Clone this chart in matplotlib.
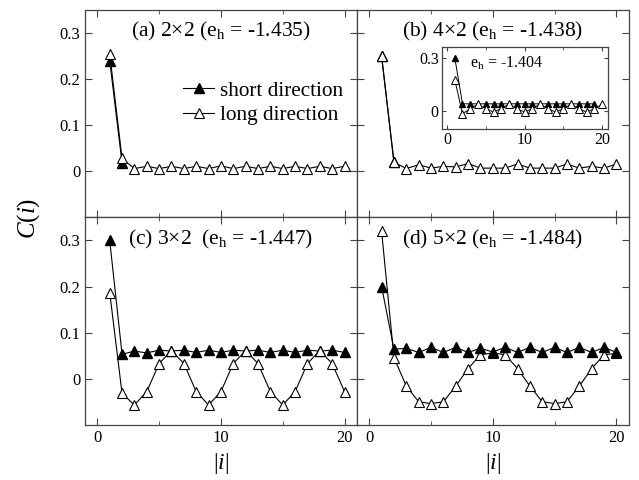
import numpy as np
import matplotlib
matplotlib.use("Agg")
from matplotlib import pyplot as plt
from matplotlib.ticker import MultipleLocator

plt.rcParams['font.family'] = ['Liberation Serif', 'DejaVu Serif']
plt.rcParams['mathtext.fontset'] = 'custom'
plt.rcParams['mathtext.rm'] = 'Liberation Serif'
plt.rcParams['mathtext.it'] = 'Liberation Serif:italic'

i_all = np.arange(1, 21)

# (a) 2x2
short_a = [0.24, 0.018]
long_a = [0.255, 0.028, 0.006, 0.011, 0.006, 0.011, 0.006, 0.011, 0.006, 0.012,
          0.006, 0.011, 0.006, 0.011, 0.006, 0.011, 0.006, 0.011, 0.006, 0.011]

# (b) 4x2
short_b = [0.25, 0.02]
long_b = [0.25, 0.02, 0.006, 0.0145, 0.007, 0.011, 0.0096, 0.017, 0.007, 0.007,
          0.007, 0.016, 0.007, 0.007, 0.007, 0.016, 0.007, 0.011, 0.007, 0.016]

# (b) inset
short_in = [0.30, 0.042, 0.042, 0.042, 0.042, 0.042, 0.042, 0.042, 0.042, 0.042,
            0.042, 0.042, 0.042, 0.042, 0.042, 0.042, 0.042, 0.042, 0.042]
long_in = [0.177, -0.013, 0.015, 0.04, 0.015, -0.004, 0.015, 0.04, 0.015, -0.004,
           0.015, 0.04, 0.015, -0.004, 0.015, 0.04, 0.015, -0.004, 0.015, 0.04]

# (c) 3x2
short_c = [0.30, 0.053, 0.06, 0.056, 0.062, 0.06, 0.062, 0.057, 0.062, 0.057,
           0.062, 0.06, 0.062, 0.057, 0.062, 0.057, 0.062, 0.06, 0.062, 0.057]
long_c = [0.187, -0.032, -0.057, -0.028, 0.033, 0.061, 0.033, -0.028, -0.057, -0.028,
          0.033, 0.061, 0.033, -0.028, -0.057, -0.028, 0.033, 0.061, 0.033, -0.028]

# (d) 5x2
short_d = [0.20, 0.064, 0.066, 0.057, 0.068, 0.057, 0.068, 0.057, 0.066, 0.058,
           0.068, 0.057, 0.068, 0.057, 0.068, 0.057, 0.068, 0.057, 0.068, 0.057]
long_d = [0.32, 0.046, -0.016, -0.05, -0.054, -0.05, -0.016, 0.022, 0.052, 0.056,
          0.052, 0.022, -0.016, -0.05, -0.054, -0.05, -0.016, 0.022, 0.052, 0.055]

titles = ["(a) 2\u00d72 (e$_\\mathrm{h}$ = -1.435)",
          "(b) 4\u00d72 (e$_\\mathrm{h}$ = -1.438)",
          "(c) 3\u00d72  (e$_\\mathrm{h}$ = -1.447)",
          "(d) 5\u00d72 (e$_\\mathrm{h}$ = -1.484)"]

# open symbols sit above the filled ones except in (d)
open_on_top = [True, True, True, False]

frame_col = '#444444'


def style_axes(ax, fs=12):
    ax.tick_params(which='both', direction='in', top=True, right=True,
                   colors=frame_col, labelcolor='black', labelsize=fs)
    ax.tick_params(which='major', length=5)
    ax.tick_params(which='minor', length=3)
    for s in ax.spines.values():
        s.set_color(frame_col)
        s.set_linewidth(0.9)


def draw_pair(ax, short, long_, top_open=True, ms=7.8):
    z_open, z_fill = (3, 2) if top_open else (2, 3)
    ax.plot(i_all[:len(short)], short, color='black', lw=0.8, marker='^',
            markersize=ms - 1.3, markerfacecolor='black', markeredgecolor='black',
            label='short direction', zorder=z_fill)
    ax.plot(i_all[:len(long_)], long_, color='black', lw=0.8, marker='^',
            markersize=ms, markerfacecolor='white', markeredgecolor='black',
            markeredgewidth=0.8, label='long direction', zorder=z_open)


fig = plt.figure(figsize=(6.39, 4.8), dpi=100)
gs = fig.add_gridspec(2, 2, left=0.133, right=0.984, top=0.979, bottom=0.115,
                      hspace=0, wspace=0)
axes = [fig.add_subplot(gs[r, c]) for r in range(2) for c in range(2)]

data = [(short_a, long_a), (short_b, long_b), (short_c, long_c), (short_d, long_d)]
for k, ax in enumerate(axes):
    s, l = data[k]
    draw_pair(ax, s, l, open_on_top[k])
    ax.set_xlim(-1, 21)
    ax.set_ylim(-0.1, 0.35)
    ax.xaxis.set_major_locator(MultipleLocator(10))
    ax.xaxis.set_minor_locator(MultipleLocator(5))
    ax.set_yticks([0, 0.1, 0.2, 0.3])
    ax.set_yticklabels(['0', '0.1', '0.2', '0.3'])
    ax.set_xticklabels([])
    style_axes(ax)
    if k % 2 == 1:
        ax.set_yticklabels([])
    if k >= 2:
        ax.set_xticks([0, 10, 20])
        ax.set_xticklabels(['0', '10', '20'])
        ax.set_xlabel('|$\\mathit{i}$|', fontsize=17, labelpad=4)
    ax.text(10, 0.303, titles[k], ha='center', va='center', fontsize=15.5)

# legend in (a)
axes[0].legend(loc='upper left', bbox_to_anchor=(0.32, 0.71),
               frameon=False, fontsize=15.3, handlelength=1.5, handletextpad=0.25,
               labelspacing=0.22, borderpad=0)

fig.text(0.045, 0.545, '$\\mathit{C(i)}$', rotation=90, ha='center', va='center',
         fontsize=18)

# inset in (b)
ins = fig.add_axes([0.691, 0.7306, 0.261, 0.172])
ins.plot(i_all[:len(short_in)], short_in, color='black', lw=0.7, marker='^',
         markersize=4.5, markerfacecolor='black', markeredgecolor='black')
ins.plot(i_all[:len(long_in)], long_in, color='black', lw=0.7, marker='^',
         markersize=5.2, markerfacecolor='white', markeredgecolor='black',
         markeredgewidth=0.7)
ins.set_xlim(-0.7, 20.8)
ins.set_ylim(-0.1, 0.36)
ins.set_xticks([0, 10, 20])
ins.xaxis.set_minor_locator(MultipleLocator(5))
ins.set_yticks([0, 0.3])
ins.set_yticklabels(['0', '0.3'])
style_axes(ins, fs=11.5)
ins.tick_params(which='major', length=3)
ins.tick_params(which='minor', length=2)
ins.tick_params(pad=2)
ins.text(3, 0.27, 'e$_\\mathrm{h}$ = -1.404', ha='left', va='center', fontsize=11.5)

fig.savefig('out.png', dpi=100)
